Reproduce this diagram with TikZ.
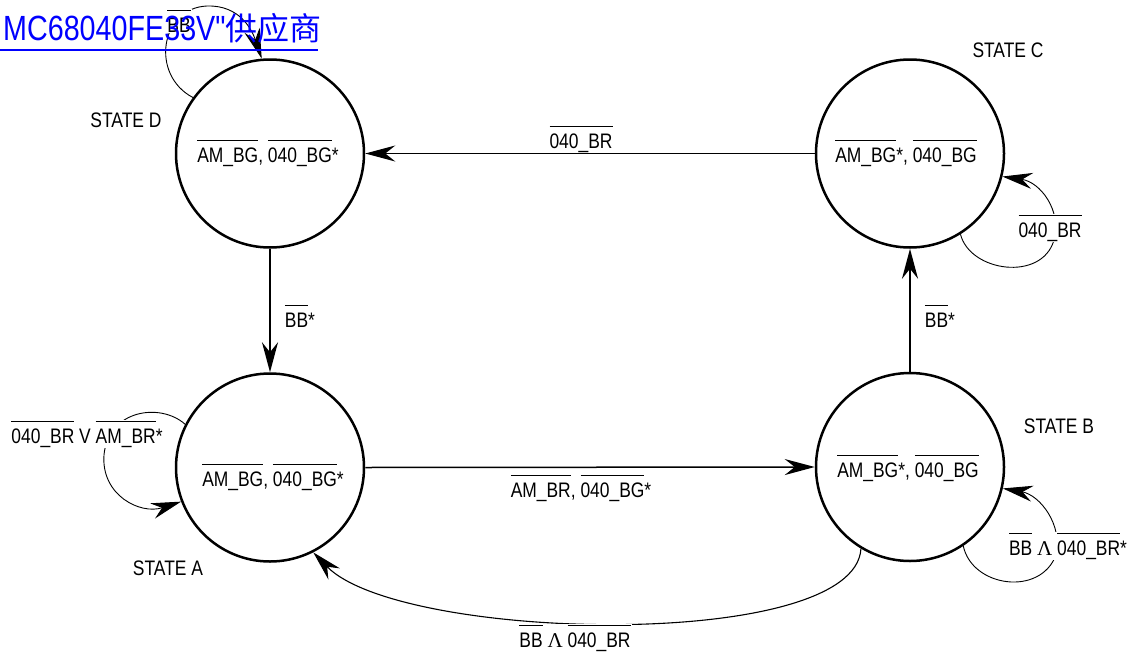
\documentclass[tikz,border=0pt]{standalone}
\usepackage{fontspec}
\setmainfont[FakeStretch=0.83]{Liberation Sans}
\newfontfamily\titlefont[FakeStretch=0.82]{Liberation Sans}
\newfontfamily\cjkfont{Noto Sans CJK SC}
\newfontfamily\serifsym{Liberation Serif}
\usetikzlibrary{arrows.meta}
\newcommand\olx[1]{\vbox{\hrule height 0.9pt\kern 6.5pt\hbox{#1}}}
\begin{document}
\begin{tikzpicture}[x=1pt,y=-1pt,
  every node/.style={font=\fontsize{21}{25}\selectfont, inner sep=1pt},
  state/.style={circle, draw, line width=2.5pt, minimum size=188pt, inner sep=0pt},
  lbl/.style={anchor=base, inner sep=1pt},
  wlbl/.style={lbl, fill=white},
  tipa/.style={-{Stealth[length=30pt,width=16pt,inset=10pt]}},
  thickedge/.style={tipa, line width=2.5pt},
  thinedge/.style={tipa, line width=1.5pt},
  loopedge/.style={tipa, line width=0.9pt},
  curveedge/.style={tipa, line width=1.1pt}]
\useasboundingbox (0,0) rectangle (1132,656);

% states
\node[state] (D) at (270,153.5) {};
\node[state] (A) at (270,467.5) {};
\node[state] (C) at (910,153.5) {};
\node[state] (B) at (910,467) {};

% state contents
\node[lbl] (Dt) at (268,162) {\olx{AM\_BG}, \olx{040\_BG}*};
\node[lbl] (At) at (273,486) {\olx{AM\_BG}, \olx{040\_BG}*};
\node[lbl] (Bt) at (908,477) {\olx{AM\_BG}*, \olx{040\_BG}};
\node[lbl] (Ct) at (906,162) {\olx{AM\_BG}*, \olx{040\_BG}};

% state names
\node[lbl] (Dn) at (126,127) {STATE D};
\node[lbl] (Cn) at (1008,57) {STATE C};
\node[lbl] (Bn) at (1059,433) {STATE B};
\node[lbl] (An) at (168,575) {STATE A};

% transitions
\draw[thinedge] (C.west) -- (D.east);
\draw[thickedge] (D.south) -- (A.north);
\draw[thinedge] (A.east) -- (B.west);
\draw[thickedge] (B.north) -- (C.south);
\draw[curveedge] (B.239) .. controls (855,652) and (400,642) .. (A.297);

% self loops
\draw[loopedge] (D.144) .. controls (150,75) and (160,8) .. (207,6)
                         .. controls (240,5) and (252,30) .. (D.95);
\draw[loopedge] (A.153) .. controls (160,402) and (108,410) .. (104,455)
                         .. controls (101,495) and (140,515) .. (A.201);
\draw[loopedge] (C.302) .. controls (970,272) and (1042,282) .. (1054,240)
                         .. controls (1062,210) and (1040,182) .. (C.346);
\draw[loopedge] (B.304) .. controls (972,587) and (1040,597) .. (1056,555)
                         .. controls (1063,525) and (1040,495) .. (B.347);

% transition labels
\node[lbl] (lCD) at (581,148) {\olx{040\_BR}};
\node[lbl] (lAB) at (581,497) {\olx{AM\_BR}, \olx{040\_BG}*};
\node[lbl] (lDA) at (300,327) {\olx{BB}*};
\node[lbl] (lBC) at (940,327) {\olx{BB}*};
\node[wlbl] (lBA) at (575,647) {\olx{BB} {\serifsym Λ} \olx{040\_BR}};
\node[wlbl] (lD) at (179,32) {\olx{BB}};
\node[wlbl] (lA) at (87,443) {\olx{040\_BR} V \olx{AM\_BR}*};
\node[wlbl] (lC) at (1050,237) {\olx{040\_BR}};
\node[wlbl] (lB) at (1068,555) {\olx{BB} {\serifsym Λ} \olx{040\_BR}*};

% title (drawn on top)
\node[anchor=base west, inner sep=0pt, text=blue] (title) at (3,40)
  {{\titlefont\fontsize{35}{40}\selectfont MC68040FE33V"}{\cjkfont\fontsize{32}{40}\selectfont 供应商}};
\draw[blue, line width=2pt] (0,50) -- (318,50);
\end{tikzpicture}
\end{document}
